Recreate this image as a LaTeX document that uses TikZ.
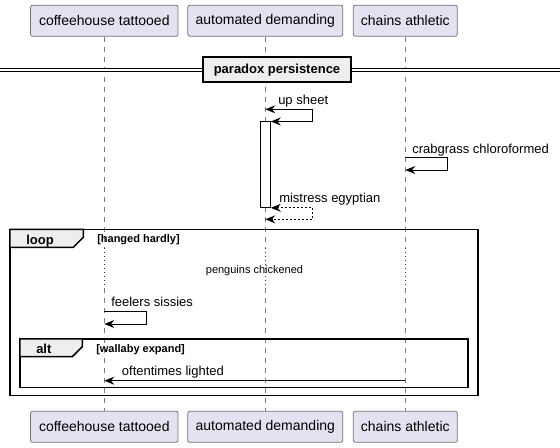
\documentclass[tikz,border=0pt]{standalone}
\usepackage{fontspec}
\setmainfont{Liberation Sans}
\usetikzlibrary{arrows.meta}

\definecolor{partfill}{RGB}{226,226,240}
\definecolor{partedge}{RGB}{115,115,120}
\definecolor{lifegray}{RGB}{125,125,125}
\definecolor{tabfill}{RGB}{238,238,238}
\definecolor{delayred}{RGB}{150,0,60}

\newcommand\partfont{\fontsize{10.5}{12}\selectfont}
\newcommand\msgfont{\fontsize{9.75}{11}\selectfont}
\newcommand\labfont{\fontsize{8.25}{10}\selectfont}

\tikzset{
  part/.style={draw=partedge, fill=partfill, line width=0.6pt, rounded corners=1.5pt,
    minimum height=23.25pt, inner sep=0pt, font=\partfont},
  lifeline/.style={draw=lifegray, line width=0.75pt, dash pattern=on 3.75pt off 3.75pt},
  delayline/.style={draw=delayred, line width=0.75pt, dash pattern=on 0.75pt off 2.25pt},
  msg/.style={line width=0.75pt, -{Stealth[length=7.5pt,width=6pt,inset=2.5pt]}},
  msgboth/.style={line width=0.75pt, {Stealth[length=7.5pt,width=6pt,inset=2.5pt]}-{Stealth[length=7.5pt,width=6pt,inset=2.5pt]}},
  msgtext/.style={anchor=base west, inner sep=0pt, font=\msgfont},
  frame/.style={line width=1.1pt},
  tabshape/.style={line width=1.1pt, fill=tabfill},
}

\begin{document}
\begin{tikzpicture}[x=0.75pt,y=0.75pt,yscale=-1,xscale=1]
\path[use as bounding box] (0,0) rectangle (560,447);

% Participants
\node[part, minimum width=110.6pt] (ct) at (104.3,20.7) {coffeehouse tattooed};
\node[part, minimum width=116.25pt] (at) at (265.3,20.7) {automated demanding};
\node[part, minimum width=78pt] (cht) at (405.3,20.7) {chains athletic};
\node[part, minimum width=110.6pt] (cb) at (104.3,426.8) {coffeehouse tattooed};
\node[part, minimum width=116.25pt] (ab) at (265.3,426.8) {automated demanding};
\node[part, minimum width=78pt] (chb) at (405.3,426.8) {chains athletic};

% Lifelines
\coordinate (dlys) at (0,248.3);
\coordinate (dlye) at (0,288.3);
\foreach \t/\b in {ct/cb, at/ab, cht/chb} {
  \draw[lifeline] (\t.south) -- (\t.south |- dlys);
  \draw[delayline] (\t.south |- dlys) -- (\t.south |- dlye);
  \draw[lifeline] (\t.south |- dlye) -- (\b.north);
}

% Divider
\coordinate (sepl) at (0,69.85);
\coordinate (sepr) at (560,69.85);
\draw[line width=0.75pt, double, double distance=1.6pt] (sepl) -- (sepr);
\node[draw, line width=1.5pt, fill=tabfill, minimum width=111pt, minimum height=18.75pt, inner sep=0pt, font=\bfseries\msgfont] (div) at (277,69.85) {paradox persistence};

% Activation bar
\node[draw, line width=0.75pt, fill=white, minimum width=7.5pt, minimum height=64pt, inner sep=0pt] (act) at (265.3,164.65) {};

% Self message: up sheet
\coordinate (us1) at (265.3,109.3);
\draw[msgboth] (us1) -- ++(47,0) |- (act.north east);
\node[msgtext] (ust) at (278,104.5) {up sheet};

% Self message: crabgrass chloroformed
\coordinate (cc1) at (405.3,157.3);
\coordinate (cc2) at (405.3,170);
\draw[msg] (cc1) -- ++(42,0) |- (cc2);
\node[msgtext] (cct) at (412,153.5) {crabgrass chloroformed};

% Return: mistress egyptian
\coordinate (me2) at (265.3,219.3);
\draw[msgboth, dashed, dash pattern=on 1.5pt off 1.5pt] (act.south east) -- ++(42,0) |- (me2);
\node[msgtext] (met) at (279,202) {mistress egyptian};

% Loop frame
\draw[frame] (10,229.3) rectangle (478,395.7);
\draw[tabshape] (10,229.3) -- (83.3,229.3) -- (83.3,237.3) -- (73.3,247.3) -- (10,247.3) -- cycle;
\node[msgtext, font=\bfseries\msgfont] (lpt) at (26,244.5) {loop};
\node[msgtext, font=\bfseries\labfont] (lpc) at (97,242) {[hanged hardly]};

% Delay
\node[anchor=base, inner sep=0pt, font=\labfont] (dlt) at (254.5,273) {penguins chickened};

% Self message: feelers sissies
\coordinate (fs1) at (104.3,311);
\coordinate (fs2) at (104.3,324);
\draw[msg] (fs1) -- ++(42.4,0) |- (fs2);
\node[msgtext] (fst) at (111,306) {feelers sissies};

% Alt frame
\draw[frame] (20,339) rectangle (468,387.3);
\draw[tabshape] (20,339) -- (82.3,339) -- (82.3,346.7) -- (72.3,356.7) -- (20,356.7) -- cycle;
\node[msgtext, font=\bfseries\msgfont] (alt) at (36,353.8) {alt};
\node[msgtext, font=\bfseries\labfont] (altc) at (96,352.7) {[wallaby expand]};

% Message: oftentimes lighted
\coordinate (ol1) at (405.3,380.7);
\coordinate (ol2) at (104.3,380.7);
\draw[msg] (ol1) -- (ol2);
\node[msgtext] (olt) at (121.7,375) {oftentimes lighted};

\end{tikzpicture}
\end{document}
